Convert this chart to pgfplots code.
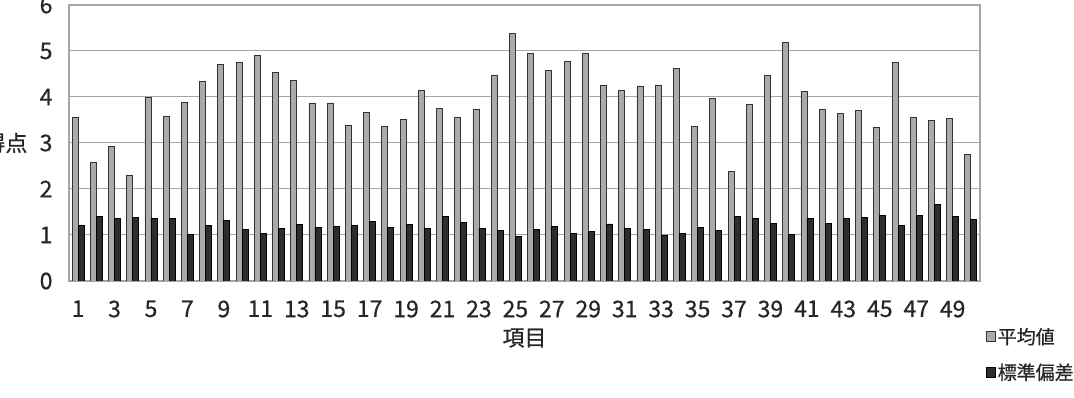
\documentclass[border=0pt]{standalone}
\usepackage{fontspec}
\setmainfont{Noto Sans CJK JP}[FakeBold=0.6]
\usepackage{pgfplots}
\usepackage{pgfplotstable}
\pgfplotsset{compat=1.18}
\definecolor{lightbar}{RGB}{170,170,170}
\definecolor{darkbar}{RGB}{45,45,45}
\definecolor{gridc}{RGB}{165,165,165}
\pgfplotstableread{
x mean sd
1 3.55 1.20
2 2.58 1.40
3 2.93 1.35
4 2.30 1.38
5 3.99 1.36
6 3.57 1.35
7 3.88 1.01
8 4.33 1.20
9 4.70 1.32
10 4.75 1.12
11 4.91 1.04
12 4.54 1.14
13 4.36 1.23
14 3.85 1.17
15 3.87 1.18
16 3.39 1.20
17 3.66 1.29
18 3.36 1.17
19 3.51 1.22
20 4.14 1.15
21 3.75 1.41
22 3.55 1.28
23 3.72 1.15
24 4.48 1.10
25 5.38 0.96
26 4.95 1.12
27 4.57 1.18
28 4.78 1.04
29 4.94 1.07
30 4.25 1.24
31 4.14 1.15
32 4.24 1.12
33 4.25 1.00
34 4.62 1.04
35 3.36 1.16
36 3.96 1.09
37 2.39 1.40
38 3.83 1.36
39 4.46 1.25
40 5.19 1.02
41 4.12 1.35
42 3.72 1.26
43 3.65 1.36
44 3.70 1.38
45 3.33 1.42
46 4.76 1.20
47 3.55 1.43
48 3.49 1.67
49 3.54 1.41
50 2.76 1.33
}\data
\begin{document}
\begin{tikzpicture}
\path[use as bounding box] (0pt,0pt) rectangle (1074pt,398pt);
\begin{axis}[
  at={(69pt,117pt)}, anchor=south west,
  scale only axis, width=911pt, height=276pt,
  ybar=0pt, bar width=6pt,
  xmin=0.5, xmax=50.5, ymin=0, ymax=6,
  xtick={1,3,...,49}, ytick={0,1,...,6},
  major tick length=0pt,
  ymajorgrids, grid style={gridc, line width=1pt},
  axis line style={gridc, line width=1.3pt},
  /pgf/number format/assume math mode=true,
  tick label style={font=\fontsize{23}{25}\selectfont, text=black!85},
  xticklabel style={yshift=-16pt},
  yticklabel style={xshift=-13pt},
  xlabel={項目},
  xlabel style={font=\fontsize{22}{24}\selectfont, text=black!85, yshift=-4pt},
  ylabel={得点},
  every axis y label/.style={at={(axis description cs:0,0.5)}, anchor=east, xshift=-38pt, font=\fontsize{22}{24}\selectfont, text=black!85},
  legend style={at={(1.003,-0.155)}, anchor=north west, draw=none, fill=none,
    font=\fontsize{19}{21}\selectfont, text=black!85, row sep=14pt,
    legend cell align=left},
  legend image code/.code={\draw[#1, line width=0.8pt] (0pt,-5pt) rectangle (9pt,5pt);},
]
\addplot[fill=lightbar, draw=black!80, line width=0.8pt] table[x=x, y=mean] {\data};
\addplot[fill=darkbar, draw=black, line width=0.8pt] table[x=x, y=sd] {\data};
\legend{平均値, 標準偏差}
\end{axis}
\end{tikzpicture}
\end{document}
